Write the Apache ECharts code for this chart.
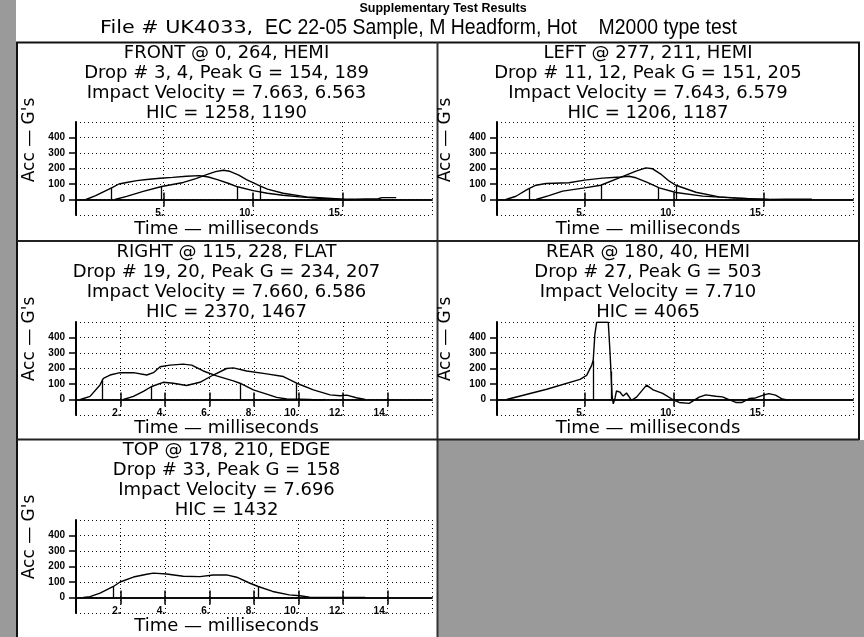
<!DOCTYPE html>
<html><head><meta charset="utf-8">
<script src="https://cdn.jsdelivr.net/npm/echarts@6/dist/echarts.min.js"></script>
<style>html,body{margin:0;padding:0;background:#9a9a9a}#c{width:864px;height:637px}</style>
</head><body><div id="c"></div>
<script>
// ---------------- DATA ----------------
const supTitle = 'Supplementary Test Results';
const fileTitleA = 'File # UK4033,';
const fileTitleB = 'EC 22-05 Sample, M Headform, Hot    M2000 type test';
const yTicks = [0, 100, 200, 300, 400];
const xTicks20 = [5, 10, 15];
const xTicks16 = [2, 4, 6, 8, 10, 12, 14];
const yTitle = "Acc — G's";
const xTitle = 'Time — milliseconds';

const frontTitle = ['FRONT @ 0, 264, HEMI', 'Drop # 3, 4, Peak G = 154, 189', 'Impact Velocity = 7.663, 6.563', 'HIC = 1258, 1190'];
const frontA = [[0.66,0],[1.2,25],[1.6,48],[2.09,75],[2.5,100],[2.93,110],[3.5,122],[4.05,129],[4.8,137],[5.5,143],[6.28,150],[7.0,154],[7.5,145],[8.0,128],[8.6,105],[9.13,82],[10.0,57],[10.8,40],[11.66,27],[12.6,17],[13.5,9],[14.2,4],[15.2,1],[15.6,0]];
const frontB = [[2.28,0],[2.93,20],[3.86,52],[4.89,84],[6.1,110],[6.8,135],[7.4,160],[7.9,180],[8.33,189],[8.7,182],[9.2,157],[9.63,128],[10.38,88],[10.8,67],[11.68,40],[12.99,17],[14.4,6],[15.2,0],[16.3,3],[17.0,5],[17.2,12],[18.0,12]];
const frontHic = [[2.09,75],[4.89,84],[9.13,82],[10.38,88]];

const leftTitle = ['LEFT @ 277, 211, HEMI', 'Drop # 11, 12, Peak G = 151, 205', 'Impact Velocity = 7.643, 6.579', 'HIC = 1206, 1187'];
const leftA = [[0.6,0],[1.16,21],[1.8,65],[2.28,92],[2.84,103],[4.12,108],[5.0,125],[6.0,138],[7.0,145],[7.47,150],[7.87,140],[8.5,110],[9.17,75],[10.1,45],[11.6,22],[13.45,9],[15.3,0]];
const leftB = [[2.28,0],[3.0,25],[3.77,54],[5.0,75],[5.9,92],[6.93,140],[7.87,183],[8.42,204],[8.8,198],[9.3,160],[9.73,118],[10.1,92],[11.22,47],[12.52,17],[14.38,4],[15.2,0],[16.3,2],[17.7,2]];
const leftHic = [[1.89,70],[5.9,92],[9.13,77],[10.1,92]];

const rightTitle = ['RIGHT @ 115, 228, FLAT', 'Drop # 19, 20, Peak G = 234, 207', 'Impact Velocity = 7.660, 6.586', 'HIC = 2370, 1467'];
const rightA = [[0.2,0],[0.63,20],[1.08,94],[1.23,137],[1.53,158],[1.98,173],[2.58,173],[3.18,158],[3.48,173],[3.78,211],[4.22,222],[4.82,228],[5.2,222],[5.72,184],[6.32,152],[7.07,120],[7.37,105],[7.97,62],[8.57,35],[9.02,14],[9.47,3],[10.5,0],[10.9,-4],[11.2,0]];
const rightB = [[2.13,0],[2.58,20],[3.03,52],[3.4,84],[3.92,111],[4.37,105],[4.97,90],[5.57,111],[6.17,158],[6.77,200],[7.07,204],[7.67,184],[8.57,165],[9.32,148],[9.92,105],[10.67,62],[11.42,30],[11.87,24],[12.17,28],[12.6,11],[13.0,0]];
const rightHic = [[1.2,130],[3.4,84],[7.37,105],[9.92,105]];

const rearTitle = ['REAR @ 180, 40, HEMI', 'Drop # 27, Peak G = 503', 'Impact Velocity = 7.710', 'HIC = 4065'];
const rearA = [[0.64,0],[2.88,66],[4.74,130],[5.11,156],[5.39,220],[5.48,255],[5.57,420],[5.67,498],[6.0,499],[6.32,498],[6.42,300],[6.47,180],[6.5,100],[6.54,18],[6.6,-28],[6.7,10],[6.78,55],[6.97,48],[7.15,22],[7.34,42],[7.62,-5],[7.9,15],[8.46,93],[8.83,62],[9.36,40],[9.92,0],[10.28,-19],[10.84,-25],[11.4,15],[11.77,30],[12.33,21],[12.7,17],[13.45,-19],[13.8,-19],[14.2,6],[14.55,10],[15.03,30],[15.3,38],[15.67,28],[16.05,3],[16.4,-5]];
const rearHic = [[5.48,250],[6.47,180]];

const topTitle = ['TOP @ 178, 210, EDGE', 'Drop # 33, Peak G = 158', 'Impact Velocity = 7.696', 'HIC = 1432'];
const topA = [[0.33,0],[0.63,6],[1.08,28],[1.68,71],[1.98,100],[2.58,132],[3.18,150],[3.48,157],[4.07,152],[4.82,137],[5.57,135],[6.17,145],[6.77,146],[7.22,131],[7.82,92],[8.19,71],[8.84,39],[9.58,17],[10.07,11],[10.5,2],[11.0,1],[13.0,1]];
const topHic = [[1.68,71],[8.19,71]];

// ---------------- LAYOUT ----------------
const panels = [
  {title: frontTitle, curves: [frontA, frontB], hic: frontHic, xMin: 0.1, xMax: 20, split: 4, xt: xTicks20, col: 0, row: 0},
  {title: leftTitle,  curves: [leftA, leftB],   hic: leftHic,  xMin: 0.1, xMax: 20, split: 4, xt: xTicks20, col: 1, row: 0},
  {title: rightTitle, curves: [rightA, rightB], hic: rightHic, xMin: 0,   xMax: 16, split: 8, xt: xTicks16, col: 0, row: 1},
  {title: rearTitle,  curves: [rearA],          hic: rearHic,  xMin: 0.1, xMax: 20, split: 4, xt: xTicks20, col: 1, row: 1},
  {title: topTitle,   curves: [topA],           hic: topHic,   xMin: 0,   xMax: 16, split: 8, xt: xTicks16, col: 0, row: 2}
];
const rowY = [42, 241, 439];
const colCx = [226.5, 648];
const plotLeft = [76, 497];
const plotTop = [122, 322, 520];
const yTitleX = [30, 446];

const dotted = {color: '#111', width: 1, type: [1, 3]};
const tickFont = {color: '#000', fontFamily: 'Liberation Sans', fontWeight: 'bold', fontSize: 10};
const panelFont = '18px "DejaVu Sans"';

const grid = [], xAxis = [], yAxis = [], series = [], graphic = [];

graphic.push({type: 'rect', z: -100, shape: {x: 16, y: 0, width: 848, height: 440}, style: {fill: '#fff'}});
graphic.push({type: 'rect', z: -100, shape: {x: 16, y: 439, width: 422, height: 198}, style: {fill: '#fff'}});

function txt(x, y, text, font, extra, align) {
  const a = align || 'center';
  return Object.assign({type: 'text', x: x, y: y, z: 100,
    style: {text: text, font: font, fill: '#000', align: a, verticalAlign: 'middle', textAlign: a, textVerticalAlign: 'middle'}}, extra || {});
}
function ln(x1, y1, x2, y2, w, c) {
  return {type: 'line', z: 100, shape: {x1: x1, y1: y1, x2: x2, y2: y2}, style: {stroke: c, lineWidth: w}};
}

graphic.push(txt(443, 9, supTitle, 'bold 12.5px "Liberation Sans"'));
graphic.push(txt(100, 28, fileTitleA, '18px "DejaVu Sans"', {scaleX: 1.15}, 'left'));
graphic.push(txt(265, 28, fileTitleB, '22px "Liberation Sans"', {scaleX: 0.883}, 'left'));

// borders
graphic.push(ln(17, 42, 17, 637, 2, '#111'));
graphic.push(ln(16, 42.5, 860, 42.5, 2, '#111'));
graphic.push(ln(859, 42, 859, 440, 2, '#111'));
graphic.push(ln(437.5, 42, 437.5, 637, 2, '#333'));
graphic.push(ln(17, 241, 859, 241, 2, '#222'));
graphic.push(ln(17, 439.5, 859, 439.5, 2, '#222'));

panels.forEach(function (p, i) {
  const c = p.col, r = p.row;
  grid.push({left: plotLeft[c], top: plotTop[r], width: 356, height: 93, containLabel: false});
  const yG = yAxis.length;
  yAxis.push({gridIndex: i, type: 'value', min: -100, max: 500, interval: 100, position: 'left',
    axisLine: {show: false, onZero: false}, axisTick: {show: false}, axisLabel: {show: false},
    splitLine: {show: true, lineStyle: dotted}});
  yAxis.push({gridIndex: i, type: 'value', min: -100, max: 500, interval: 100, position: 'left',
    axisLine: {show: true, onZero: false, lineStyle: {color: '#000', width: 2}},
    axisTick: {show: true, length: 7, customValues: yTicks, lineStyle: {color: '#000', width: 1.5}},
    axisLabel: Object.assign({customValues: yTicks, margin: 11}, tickFont),
    splitLine: {show: false}});
  const xG = xAxis.length;
  xAxis.push({gridIndex: i, type: 'value', min: p.xMin, max: p.xMax, splitNumber: p.split, position: 'bottom',
    axisLine: {show: false, onZero: false}, axisTick: {show: false},
    axisLabel: Object.assign({customValues: p.xt, formatter: function (v) { return v + '.'; }, align: 'right', verticalAlign: 'bottom', margin: 3}, tickFont),
    splitLine: {show: true, lineStyle: dotted}});
  xAxis.push({gridIndex: i, type: 'value', min: p.xMin, max: p.xMax, position: 'top',
    axisLine: {show: true, onZero: true, onZeroAxisIndex: yG, lineStyle: {color: '#000', width: 1.5}},
    axisTick: {show: true, length: 7, customValues: p.xt, lineStyle: {color: '#000', width: 1.5}},
    axisLabel: {show: false}, splitLine: {show: false}});
  xAxis.push({gridIndex: i, type: 'value', min: p.xMin, max: p.xMax, position: 'bottom',
    axisLine: {show: true, onZero: true, onZeroAxisIndex: yG, lineStyle: {color: '#000', width: 1.5}},
    axisTick: {show: true, length: 7, customValues: p.xt, lineStyle: {color: '#000', width: 1.5}},
    axisLabel: {show: false}, splitLine: {show: false}});

  p.curves.forEach(function (d, k) {
    const s = {type: 'line', xAxisIndex: xG, yAxisIndex: yG, data: d, showSymbol: false, symbol: 'none',
      lineStyle: {color: '#000', width: 1.4}, clip: true, animation: false, z: 5};
    if (k === 0) {
      s.markLine = {silent: true, symbol: ['none', 'none'], label: {show: false}, animation: false,
        lineStyle: {color: '#000', width: 1.3, type: 'solid'},
        data: p.hic.map(function (m) { return [{coord: [m[0], 0]}, {coord: [m[0], m[1]]}]; })};
    }
    series.push(s);
  });

  p.title.forEach(function (t, j) {
    graphic.push(txt(colCx[c], rowY[r] + 11.5 + 20 * j, t, panelFont));
  });
  graphic.push(txt(yTitleX[c], rowY[r] + 98, yTitle, '17px "DejaVu Sans"', {rotation: Math.PI / 2}));
  graphic.push(txt(colCx[c], rowY[r] + 187, xTitle, '18px "DejaVu Sans"'));
});

const chart = echarts.init(document.getElementById('c'), null, {renderer: 'canvas'});
chart.setOption({
  backgroundColor: '#9a9a9a',
  animation: false,
  grid: grid, xAxis: xAxis, yAxis: yAxis, series: series,
  graphic: {elements: graphic}
});
</script>
</body></html>
